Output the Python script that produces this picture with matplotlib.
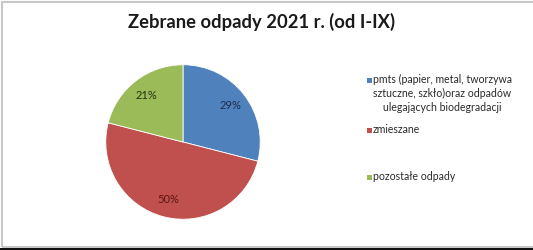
import matplotlib
matplotlib.use('Agg')
import matplotlib.pyplot as plt
from matplotlib.patches import Rectangle

title = 'Zebrane odpady 2021 r. (od I-IX)'
labels = ['pmts (papier, metal, tworzywa\nsztuczne, szkło)oraz odpadów\nulegających biodegradacji',
          'zmieszane',
          'pozostałe odpady']
shares = [29, 50, 21]
colors = ['#4f81bd', '#c0504d', '#9bbb59']
pct_colors = ['#1c2d4f', '#5c1412', '#25300f']

W, H = 533, 250
fig = plt.figure(figsize=(W / 100, H / 100), dpi=100)
fig.patch.set_facecolor('white')

# frame around the chart area and dark strip at the bottom
fig.patches.append(Rectangle((2 / W, 3 / H), 1.0, (H - 5) / H, transform=fig.transFigure,
                             fill=False, edgecolor='#c8c8c8', linewidth=1.5))
fig.patches.append(Rectangle((0, 0), 1, 2.5 / H, transform=fig.transFigure,
                             facecolor='#111111', edgecolor='none'))

fig.text(262 / W, 1 - 22 / H, title, ha='center', va='center',
         fontsize=13.2, fontweight='bold', family='Lato', color='#1a1a1a')

cx, cy, r = 183, 142, 78
ax = fig.add_axes([(cx - r) / W, (H - cy - r) / H, 2 * r / W, 2 * r / H])
wedges, _, autotexts = ax.pie(shares, colors=colors, startangle=90, counterclock=False,
                              autopct='%d%%', pctdistance=0.77, radius=1,
                              wedgeprops=dict(edgecolor='white', linewidth=0.6),
                              textprops=dict(fontsize=8, family='Lato'))
for t, c in zip(autotexts, pct_colors):
    t.set_color(c)
ax.set_xlim(-1.01, 1.01)
ax.set_ylim(-1.01, 1.01)
ax.set_aspect('equal')

# legend drawn by hand so the marker sits on the first line
legend_y = [80, 130, 177]
for lab, c, y in zip(labels, colors, legend_y):
    fig.patches.append(Rectangle((367 / W, 1 - (y + 3) / H), 5 / W, 5 / H,
                                 transform=fig.transFigure, facecolor=c, edgecolor='none'))
    fig.text(373 / W, 1 - (y - 6) / H, lab, ha='left', va='top', fontsize=7.6,
             family='Lato', color='#2a2a2a', linespacing=1.35, multialignment='center')

fig.savefig('out.png', dpi=100)
